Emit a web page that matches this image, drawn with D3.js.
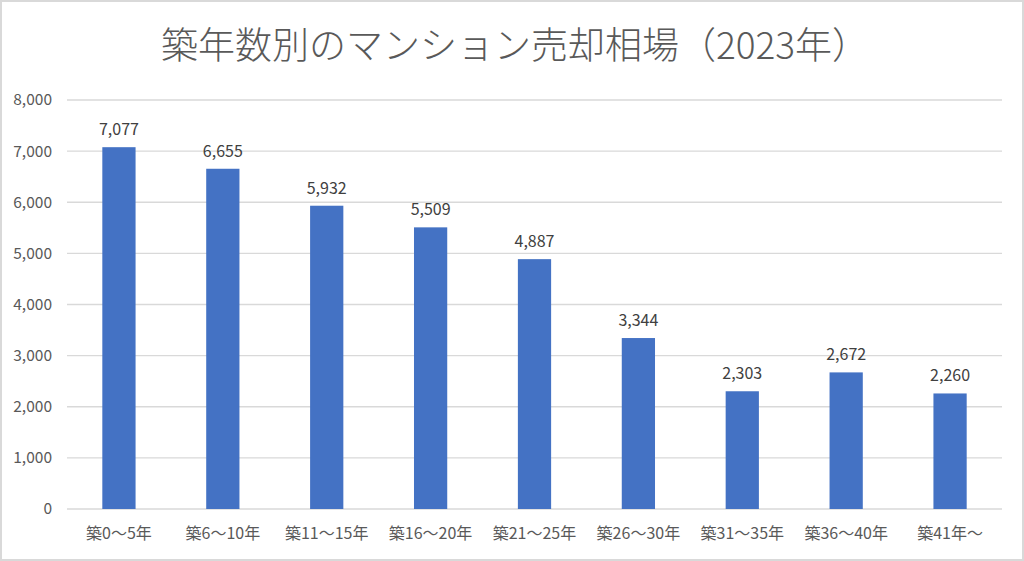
<html>
<head>
<meta charset="utf-8">
<title>築年数別のマンション売却相場</title>
<script src="https://d3js.org/d3.v7.min.js"></script>
<style>
    body { margin: 0; background: #fff; }
    text { font-family: "Noto Sans CJK JP", "Noto Sans", sans-serif; }
</style>
</head>
<body>
<div id="chart"></div>
<script type="text/javascript">
    // data
    var categories = ["築0〜5年", "築6〜10年", "築11〜15年", "築16〜20年", "築21〜25年",
                      "築26〜30年", "築31〜35年", "築36〜40年", "築41年〜"];
    var prices = [7077, 6655, 5932, 5509, 4887, 3344, 2303, 2672, 2260];
    var yTicks = [0, 1000, 2000, 3000, 4000, 5000, 6000, 7000, 8000];
    var title = "築年数別のマンション売却相場（2023年）";

    var W = 1024, H = 561;
    var margin = {top: 100, right: 22, bottom: 52, left: 67};
    var width = W - margin.left - margin.right;
    var height = H - margin.top - margin.bottom;

    var svg = d3.select("#chart").append("svg")
        .attr("width", W)
        .attr("height", H);

    // outer frame
    svg.append("rect")
        .attr("x", 1).attr("y", 1)
        .attr("width", W - 2).attr("height", H - 2)
        .attr("fill", "#fff")
        .attr("stroke", "#d9d9d9")
        .attr("stroke-width", 2);

    svg.append("text")
        .attr("x", W / 2 + 3)
        .attr("y", 59)
        .attr("text-anchor", "middle")
        .style("font-size", "37px")
        .style("font-weight", 300)
        .attr("fill", "#595959")
        .text(title);

    var g = svg.append("g")
        .attr("transform", "translate(" + margin.left + "," + margin.top + ")");

    var x = d3.scaleBand().domain(categories).range([0, width]).paddingInner(0.68).paddingOuter(0.34);
    var y = d3.scaleLinear().domain([0, 8000]).range([height, 0]);

    // gridlines
    g.append("g")
        .selectAll("line")
        .data(yTicks)
        .enter()
        .append("line")
        .attr("x1", 0).attr("x2", width)
        .attr("y1", function (d) { return y(d); })
        .attr("y2", function (d) { return y(d); })
        .attr("stroke", "#d9d9d9")
        .attr("stroke-width", 1.3);

    // y axis labels
    var yAxis = g.append("g")
        .call(d3.axisLeft(y).tickValues(yTicks).tickFormat(d3.format(",")).tickSize(0).tickPadding(15));
    yAxis.select(".domain").remove();
    yAxis.selectAll("text")
        .attr("fill", "#595959")
        .style("font-size", "15.5px");

    // bars
    g.selectAll("rect.bar")
        .data(prices)
        .enter()
        .append("rect")
        .attr("class", "bar")
        .attr("x", function (d, i) { return x(categories[i]); })
        .attr("y", function (d) { return y(d); })
        .attr("width", x.bandwidth())
        .attr("height", function (d) { return height - y(d); })
        .attr("fill", "#4472c4");

    // value labels
    g.selectAll("text.val")
        .data(prices)
        .enter()
        .append("text")
        .attr("class", "val")
        .attr("x", function (d, i) { return x(categories[i]) + x.bandwidth() / 2; })
        .attr("y", function (d) { return y(d) - 12; })
        .attr("text-anchor", "middle")
        .style("font-size", "16px")
        .attr("fill", "#404040")
        .text(function (d) { return d3.format(",")(d); });

    // x axis labels
    var xAxis = g.append("g")
        .attr("transform", "translate(0," + height + ")")
        .call(d3.axisBottom(x).tickSize(0).tickPadding(19));
    xAxis.select(".domain").remove();
    xAxis.selectAll("text")
        .attr("fill", "#595959")
        .style("font-size", "16px");
</script>
</body>
</html>
